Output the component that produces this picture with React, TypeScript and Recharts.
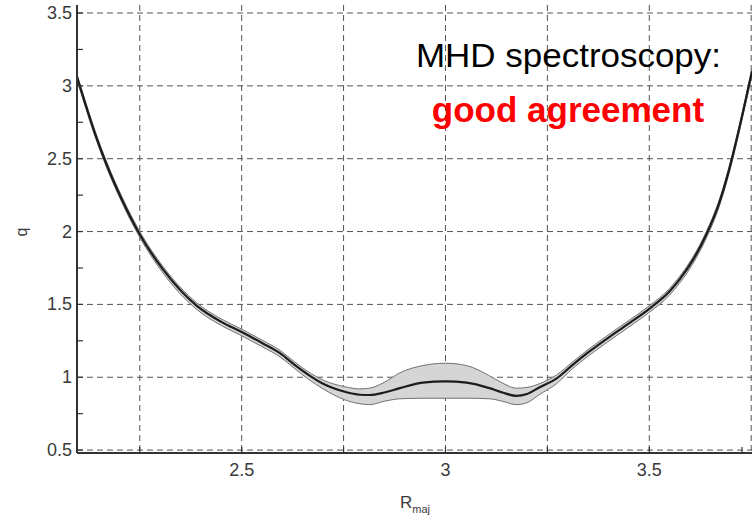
import React from 'react';
import {
  ComposedChart, Area, Line, XAxis, YAxis, CartesianGrid,
} from 'recharts';

// major radius samples and safety factor profile (centre + uncertainty band)
const rMaj = [
  2.096, 2.116, 2.138, 2.17, 2.206, 2.226, 2.25, 2.307, 2.39, 2.45,
  2.5, 2.55, 2.594, 2.63, 2.662, 2.7, 2.753, 2.79, 2.814, 2.85,
  2.888, 2.944, 3.0, 3.052, 3.108, 3.14, 3.174, 3.2, 3.23, 3.272,
  3.312, 3.35, 3.395, 3.45, 3.5, 3.55, 3.574, 3.606, 3.64, 3.672,
  3.701, 3.72, 3.752,
];
const qCentre = [
  3.06, 2.88, 2.69, 2.45, 2.22, 2.105, 1.98, 1.74, 1.49, 1.38,
  1.31, 1.235, 1.165, 1.085, 1.02, 0.955, 0.9, 0.88, 0.878, 0.895,
  0.925, 0.963, 0.972, 0.963, 0.925, 0.895, 0.872, 0.885, 0.93, 0.99,
  1.085, 1.17, 1.262, 1.37, 1.47, 1.59, 1.67, 1.8, 1.98, 2.2,
  2.48, 2.7, 3.1,
];
const qLower = [
  3.04, 2.86, 2.67, 2.43, 2.2, 2.085, 1.96, 1.715, 1.465, 1.355,
  1.285, 1.21, 1.14, 1.06, 0.99, 0.92, 0.845, 0.818, 0.812, 0.835,
  0.852, 0.856, 0.856, 0.856, 0.852, 0.835, 0.812, 0.825, 0.88, 0.955,
  1.06, 1.145, 1.237, 1.345, 1.445, 1.565, 1.645, 1.775, 1.955, 2.175,
  2.455, 2.675, 3.075,
];
const qUpper = [
  3.08, 2.9, 2.71, 2.47, 2.24, 2.125, 2.0, 1.76, 1.51, 1.4,
  1.33, 1.255, 1.185, 1.105, 1.04, 0.98, 0.935, 0.92, 0.925, 0.965,
  1.03, 1.08, 1.096, 1.08, 1.01, 0.96, 0.925, 0.93, 0.955, 1.015,
  1.105, 1.19, 1.282, 1.39, 1.49, 1.61, 1.69, 1.82, 2.0, 2.22,
  2.5, 2.72, 3.12,
];

const xTicks = [2.25, 2.5, 2.75, 3, 3.25, 3.5, 3.75];
const xLabelled = [2.5, 3, 3.5];
const yGrid = [0.5, 1, 1.5, 2, 2.5, 3, 3.5];
const yTicks = [0.5, 0.75, 1, 1.25, 1.5, 1.75, 2, 2.25, 2.5, 2.75, 3, 3.25, 3.5];

const data = rMaj.map((r, i) => ({
  r,
  q: qCentre[i],
  band: [qLower[i], qUpper[i]],
}));

const FONT = '"Liberation Sans", Arial, Helvetica, sans-serif';
const AXIS = '#333';
const LABEL = '#3a3a3a';
const TICK_LEN = 6;

const LeftTick = (props: any) => {
  const { x, y, payload } = props;
  const major = yGrid.includes(payload.value);
  return (
    <g>
      <line x1={x} x2={x + TICK_LEN} y1={y} y2={y} stroke={AXIS} strokeWidth={1.2} />
      {major && (
        <text x={x - 5} y={y + 6} textAnchor="end" fontSize={18} fontFamily={FONT} fill={LABEL}>
          {payload.value}
        </text>
      )}
    </g>
  );
};

const RightTick = (props: any) => {
  const { x, y } = props;
  return <line x1={x} x2={x - TICK_LEN} y1={y} y2={y} stroke={AXIS} strokeWidth={1.2} />;
};

const BottomTick = (props: any) => {
  const { x, y, payload } = props;
  const labelled = xLabelled.includes(payload.value);
  return (
    <g>
      <line x1={x} x2={x} y1={y} y2={y - TICK_LEN} stroke={AXIS} strokeWidth={1.2} />
      {labelled && (
        <text x={x} y={y + 23} textAnchor="middle" fontSize={18} fontFamily={FONT} fill={LABEL}>
          {payload.value}
        </text>
      )}
    </g>
  );
};

const TopTick = (props: any) => {
  const { x, y } = props;
  return <line x1={x} x2={x} y1={y} y2={y + TICK_LEN} stroke={AXIS} strokeWidth={1.2} />;
};

export default function App() {
  return (
    <div style={{ position: 'fixed', left: 0, top: 0, width: 756, height: 519, background: '#fff' }}>
      <ComposedChart width={756} height={519} data={data} margin={{ top: 5, right: 4, bottom: 0, left: 0 }}>
        <CartesianGrid
          strokeDasharray="6 4"
          stroke="#555"
          strokeWidth={1}
          horizontalValues={yGrid}
          verticalValues={xTicks}
        />
        <XAxis
          dataKey="r"
          type="number"
          domain={[2.096, 3.752]}
          ticks={xTicks}
          allowDataOverflow
          height={66}
          tickSize={0}
          tickMargin={0}
          tick={BottomTick}
          axisLine={{ stroke: AXIS, strokeWidth: 2 }}
          label={{
            content: () => (
              <text x={400} y={508} fontFamily={FONT} fill={LABEL} fontSize={17}>
                R<tspan fontSize={11} dy={5}>maj</tspan>
              </text>
            ),
          }}
        />
        <XAxis
          xAxisId="top"
          orientation="top"
          dataKey="r"
          type="number"
          domain={[2.096, 3.752]}
          ticks={xTicks}
          allowDataOverflow
          height={0}
          tickSize={0}
          tickMargin={0}
          tick={TopTick}
          axisLine={{ stroke: AXIS, strokeWidth: 1.5 }}
        />
        <YAxis
          type="number"
          domain={[0.48, 3.555]}
          ticks={yTicks}
          allowDataOverflow
          width={77}
          tickSize={0}
          tickMargin={0}
          tick={LeftTick}
          axisLine={{ stroke: AXIS, strokeWidth: 2 }}
          label={{
            content: () => (
              <text
                x={27}
                y={232}
                transform="rotate(-90 27 232)"
                textAnchor="middle"
                fontFamily={FONT}
                fill={LABEL}
                fontSize={16}
              >
                q
              </text>
            ),
          }}
        />
        <YAxis
          yAxisId="right"
          orientation="right"
          type="number"
          domain={[0.48, 3.555]}
          ticks={yTicks}
          allowDataOverflow
          width={0}
          tickSize={0}
          tickMargin={0}
          tick={RightTick}
          axisLine={{ stroke: AXIS, strokeWidth: 2 }}
        />
        <Area
          dataKey="band"
          type="monotone"
          fill="#d5d5d5"
          fillOpacity={1}
          stroke="#707070"
          strokeWidth={1}
          dot={false}
          activeDot={false}
          isAnimationActive={false}
        />
        <Line
          dataKey="q"
          type="monotone"
          stroke="#1c1c1c"
          strokeWidth={2.2}
          dot={false}
          activeDot={false}
          isAnimationActive={false}
        />
      </ComposedChart>
      <svg width={756} height={519} style={{ position: 'absolute', left: 0, top: 0, pointerEvents: 'none' }}>
        <text
          x={416}
          y={67}
          fontFamily={FONT}
          fontSize={33}
          fill="#000"
          textLength={305}
          lengthAdjust="spacingAndGlyphs"
        >
          MHD spectroscopy:
        </text>
        <text x={568} y={122} textAnchor="middle" fontFamily={FONT} fontWeight="bold" fontSize={35} fill="#ff0000">
          good agreement
        </text>
      </svg>
    </div>
  );
}
